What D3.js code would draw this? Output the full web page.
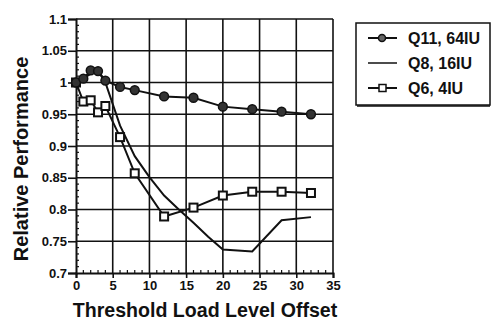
<!DOCTYPE html>
<html>
<head>
<meta charset="utf-8">
<script src="https://cdn.jsdelivr.net/npm/d3@7"></script>
<style>
  body { margin: 0; background: #fff; }
  text { font-family: "Liberation Sans", Arial, sans-serif; font-weight: bold; fill: #111; }
</style>
</head>
<body>
<div id="chart"></div>
<script>
// series data
var q11X = [0, 1, 2, 3, 4, 6, 8, 12, 16, 20, 24, 28, 32];
var q11Y = [1.0, 1.006, 1.019, 1.018, 1.003, 0.993, 0.988, 0.978, 0.976, 0.962, 0.958, 0.954, 0.95];

var q8X = [0, 1, 2, 3, 4, 6, 8, 10, 12, 14, 16, 18, 20, 24, 28, 32];
var q8Y = [1.0, 1.006, 1.014, 1.018, 1.0, 0.932, 0.884, 0.851, 0.822, 0.8, 0.779, 0.757, 0.737, 0.734, 0.783, 0.788];

var q6X = [0, 1, 2, 3, 4, 6, 8, 12, 16, 20, 24, 28, 32];
var q6Y = [1.0, 0.97, 0.972, 0.953, 0.963, 0.914, 0.857, 0.789, 0.803, 0.822, 0.828, 0.828, 0.826];

var xTicks = [0, 5, 10, 15, 20, 25, 30, 35];
var yTicks = [0.7, 0.75, 0.8, 0.85, 0.9, 0.95, 1.0, 1.05, 1.1];
var legendLabels = ["Q11, 64IU", "Q8, 16IU", "Q6, 4IU"];

function makeSeries(xs, ys) {
  return xs.map(function(d, i) { return {x: d, y: ys[i]}; });
}

function drawChart() {
  var width = 491, height = 321;
  var svg = d3.select("#chart").append("svg")
    .attr("width", width)
    .attr("height", height);

  var x = d3.scaleLinear().domain([0, 35]).range([76, 333]);
  var y = d3.scaleLinear().domain([0.7, 1.1]).range([273, 19]);

  // grid
  svg.append("g").selectAll("line.v")
    .data(xTicks.slice(1))
    .join("line")
    .attr("x1", d => x(d)).attr("x2", d => x(d))
    .attr("y1", y(0.7)).attr("y2", y(1.1))
    .attr("stroke", "#111").attr("stroke-width", 1.6);
  svg.append("g").selectAll("line.h")
    .data(yTicks.slice(1))
    .join("line")
    .attr("x1", x(0)).attr("x2", x(35))
    .attr("y1", d => y(d)).attr("y2", d => y(d))
    .attr("stroke", "#111").attr("stroke-width", 1.6);

  // minor ticks (inside)
  var minorX = d3.range(1, 35).filter(d => d % 5 !== 0);
  svg.append("g").selectAll("line")
    .data(minorX)
    .join("line")
    .attr("x1", d => x(d)).attr("x2", d => x(d))
    .attr("y1", y(0.7)).attr("y2", y(0.7) - 3)
    .attr("stroke", "#111").attr("stroke-width", 1.2);
  var minorY = d3.range(71, 110).filter(d => d % 5 !== 0).map(d => d / 100);
  svg.append("g").selectAll("line")
    .data(minorY)
    .join("line")
    .attr("x1", x(0)).attr("x2", x(0) + 3)
    .attr("y1", d => y(d)).attr("y2", d => y(d))
    .attr("stroke", "#111").attr("stroke-width", 1.2);

  // axes
  var xAxis = svg.append("g")
    .attr("transform", "translate(0," + y(0.7) + ")")
    .call(d3.axisBottom(x).tickValues(xTicks).tickSize(5).tickPadding(3).tickFormat(d3.format("d")));
  var yAxis = svg.append("g")
    .attr("transform", "translate(" + x(0) + ",0)")
    .call(d3.axisLeft(y).tickValues(yTicks).tickSize(8).tickPadding(1).tickFormat(d => +d.toFixed(2) + ""));
  [xAxis, yAxis].forEach(function(ax) {
    ax.select(".domain").attr("stroke", "#111").attr("stroke-width", 2);
    ax.selectAll(".tick line").attr("stroke", "#111").attr("stroke-width", 1.6);
    ax.selectAll(".tick text").attr("font-size", 13).attr("fill", "#111")
      .attr("font-family", "Liberation Sans, Arial, sans-serif").attr("font-weight", "bold");
  });

  // axis titles
  svg.append("text")
    .attr("x", 205).attr("y", 317)
    .attr("text-anchor", "middle")
    .attr("font-size", 19.6)
    .text("Threshold Load Level Offset");
  svg.append("text")
    .attr("transform", "translate(28,159) rotate(-90)")
    .attr("text-anchor", "middle")
    .attr("font-size", 20)
    .text("Relative Performance");

  var line = d3.line().x(d => x(d.x)).y(d => y(d.y));

  var q11 = makeSeries(q11X, q11Y);
  var q8 = makeSeries(q8X, q8Y);
  var q6 = makeSeries(q6X, q6Y);

  svg.append("path").datum(q8)
    .attr("fill", "none").attr("stroke", "#111").attr("stroke-width", 2)
    .attr("d", line);
  svg.append("path").datum(q6)
    .attr("fill", "none").attr("stroke", "#111").attr("stroke-width", 2)
    .attr("d", line);
  svg.append("path").datum(q11)
    .attr("fill", "none").attr("stroke", "#111").attr("stroke-width", 2)
    .attr("d", line);

  svg.append("g").selectAll("rect")
    .data(q6)
    .join("rect")
    .attr("x", d => x(d.x) - 4).attr("y", d => y(d.y) - 4)
    .attr("width", 8).attr("height", 8)
    .attr("fill", "#fff").attr("stroke", "#111").attr("stroke-width", 2);
  svg.append("g").selectAll("circle")
    .data(q11)
    .join("circle")
    .attr("cx", d => x(d.x)).attr("cy", d => y(d.y))
    .attr("r", 4.4)
    .attr("fill", "#333").attr("stroke", "#111").attr("stroke-width", 1.5);

  // legend
  var lg = svg.append("g");
  lg.append("rect")
    .attr("x", 356).attr("y", 23).attr("width", 134).attr("height", 82)
    .attr("fill", "#fff").attr("stroke", "#111").attr("stroke-width", 1.5);
  lg.append("line")
    .attr("x1", 357).attr("x2", 490).attr("y1", 106).attr("y2", 106)
    .attr("stroke", "#111").attr("stroke-width", 1.5);
  var rowY = [38, 63, 88];
  legendLabels.forEach(function(label, i) {
    lg.append("line")
      .attr("x1", 368).attr("x2", 397).attr("y1", rowY[i]).attr("y2", rowY[i])
      .attr("stroke", "#111").attr("stroke-width", i === 1 ? 1.5 : 2);
    if (i === 0) {
      lg.append("circle").attr("cx", 382).attr("cy", rowY[i]).attr("r", 3.5)
        .attr("fill", "#666").attr("stroke", "#111").attr("stroke-width", 1.5);
    } else if (i === 2) {
      lg.append("rect").attr("x", 379).attr("y", rowY[i] - 3.5).attr("width", 7).attr("height", 7)
        .attr("fill", "#fff").attr("stroke", "#111").attr("stroke-width", 1.5);
    }
    lg.append("text")
      .attr("x", 408).attr("y", rowY[i] + 6)
      .attr("font-size", 16)
      .text(label);
  });
}
drawChart();
</script>
</body>
</html>
